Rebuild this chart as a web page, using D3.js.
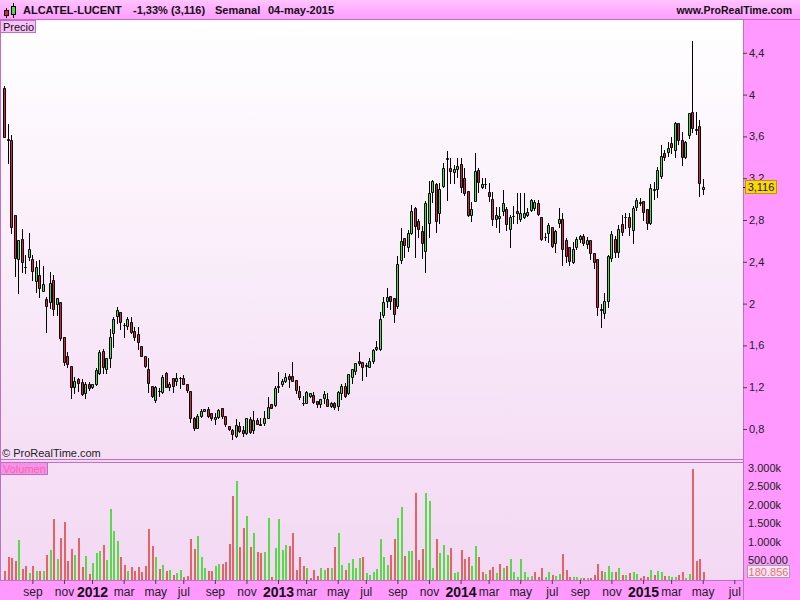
<!DOCTYPE html>
<html><head><meta charset="utf-8">
<script src="https://cdn.jsdelivr.net/npm/d3@7"></script>
<style>
html,body{margin:0;padding:0;background:#ff99ff;}
svg{display:block;font-family:"Liberation Sans",Arial,sans-serif;}
</style></head><body>
<svg id="chart" width="800" height="600"></svg>
<script>
// ---------- DATA ----------
const firstWeek = "2011-07-11";
const lastWeek = "2015-05-04";
const open = [4.06,3.57,3.565,2.85,2.424,2.615,2.355,2.443,2.424,2.219,
2.274,2.123,2.044,2.012,2.226,1.993,2.012,1.678,1.50,1.403,
1.205,1.281,1.25,1.142,1.228,1.199,1.228,1.333,1.546,1.371,
1.477,1.716,1.884,1.922,1.797,1.79,1.821,1.738,1.71,1.594,
1.50,1.371,1.214,1.078,1.168,1.157,1.333,1.199,1.285,1.262,
1.284,1.285,1.233,1.164,0.902,0.812,0.927,0.977,0.994,0.956,
0.893,0.918,0.998,0.924,0.832,0.79,0.736,0.829,0.79,0.759,
0.893,0.79,0.886,0.845,0.855,0.908,1.036,1.03,1.203,1.228,
1.26,1.307,1.307,1.27,1.164,1.052,1.052,1.12,1.125,1.071,
1.036,1.093,1.084,1.023,1.046,1.02,1.142,1.214,1.142,1.30,
1.358,1.45,1.438,1.405,1.398,1.454,1.565,1.57,1.89,2.028,
2.07,2.05,1.977,2.417,2.624,2.538,2.678,2.911,2.793,2.694,
2.506,2.767,3.065,3.144,2.863,3.128,3.38,3.294,3.262,3.291,
3.336,3.199,3.077,2.847,2.985,3.278,3.119,3.14,3.071,3.001,
2.806,2.815,2.889,2.905,2.71,2.84,2.886,2.806,2.831,2.847,
2.895,2.918,2.959,2.825,2.634,2.672,2.729,2.576,2.774,2.806,
2.61,2.539,2.40,2.545,2.615,2.647,2.567,2.609,2.487,2.427,
1.95,1.907,2.028,2.433,2.62,2.49,2.76,2.826,2.83,2.70,
2.927,2.975,2.985,2.902,2.77,3.09,3.093,3.22,3.44,3.454,
3.533,3.47,3.731,3.565,3.406,3.613,3.836,3.66,3.70,3.10];
const high = [4.08,3.72,3.61,2.85,2.61,2.71,2.465,2.676,2.465,2.41,
2.417,2.36,2.06,2.30,2.274,2.05,2.018,1.678,1.534,1.403,
1.30,1.29,1.276,1.248,1.25,1.235,1.38,1.556,1.565,1.477,
1.754,1.876,1.968,1.922,1.817,1.869,1.869,1.78,1.78,1.594,
1.50,1.477,1.214,1.21,1.19,1.316,1.345,1.254,1.285,1.333,
1.296,1.316,1.233,1.164,0.918,0.94,0.99,0.995,1.01,0.956,
0.95,0.99,0.998,0.924,0.832,0.80,0.895,0.87,0.826,0.91,
0.918,0.975,0.91,0.91,0.975,1.11,1.036,1.21,1.35,1.28,
1.34,1.33,1.44,1.27,1.21,1.115,1.164,1.142,1.154,1.071,
1.084,1.16,1.14,1.06,1.06,1.167,1.227,1.24,1.323,1.374,
1.434,1.54,1.438,1.43,1.477,1.57,1.64,1.92,2.066,2.145,
2.07,2.05,2.455,2.719,2.63,2.70,2.943,2.92,2.806,2.742,
2.982,3.173,3.18,3.15,3.151,3.342,3.46,3.39,3.326,3.39,
3.39,3.294,3.08,2.975,3.444,3.294,3.199,3.199,3.151,3.071,
2.927,2.921,3.087,2.927,2.847,2.934,3.061,3.061,3.055,2.911,
2.998,2.991,2.991,2.825,2.672,2.774,2.729,2.704,2.911,2.863,
2.624,2.545,2.59,2.64,2.66,2.67,2.635,2.609,2.487,2.427,
2.00,2.10,2.465,2.69,2.65,2.75,2.85,2.865,2.865,2.934,
3.007,3.007,2.985,2.902,3.14,3.16,3.31,3.52,3.47,3.55,
3.598,3.74,3.731,3.64,3.56,3.82,4.513,3.83,3.76,3.19];
const low = [3.59,3.35,2.68,2.26,2.104,2.30,2.29,2.417,2.226,2.11,
2.066,2.123,1.73,1.955,1.89,1.89,1.652,1.41,1.39,1.10,
1.142,1.167,1.125,1.094,1.17,1.19,1.22,1.326,1.333,1.333,
1.396,1.58,1.81,1.754,1.678,1.754,1.716,1.652,1.563,1.495,
1.39,1.151,1.11,1.06,1.12,1.147,1.199,1.174,1.157,1.22,
1.19,1.228,1.157,0.87,0.79,0.812,0.918,0.97,0.918,0.886,
0.85,0.902,0.902,0.83,0.79,0.70,0.72,0.775,0.736,0.752,
0.765,0.765,0.845,0.84,0.838,0.905,0.998,1.02,1.157,1.21,
1.245,1.205,1.255,1.147,1.085,1.03,1.047,1.11,1.047,1.014,
1.01,1.047,1.02,1.014,0.99,0.985,1.085,1.11,1.135,1.236,
1.33,1.41,1.27,1.31,1.39,1.43,1.56,1.56,1.87,1.97,
1.95,1.82,1.96,2.385,2.449,2.50,2.67,2.449,2.64,2.433,
2.305,2.64,2.975,2.688,2.767,3.119,2.99,3.15,3.151,3.215,
3.071,3.039,2.838,2.793,2.98,3.071,3.103,3.103,2.985,2.751,
2.735,2.688,2.847,2.704,2.544,2.774,2.774,2.793,2.815,2.838,
2.886,2.90,2.847,2.608,2.608,2.592,2.544,2.496,2.735,2.369,
2.40,2.37,2.39,2.52,2.59,2.56,2.535,2.43,2.34,1.89,
1.78,1.86,1.97,2.41,2.45,2.45,2.66,2.72,2.66,2.58,
2.90,2.94,2.80,2.71,2.76,3.00,3.02,3.20,3.375,3.41,
3.44,3.40,3.53,3.33,3.39,3.58,3.64,3.62,3.03,3.05];
const close = [3.59,3.575,2.736,2.44,2.609,2.395,2.35,2.52,2.315,2.347,
2.152,2.185,1.98,2.194,1.945,2.05,1.674,1.444,1.42,1.205,
1.262,1.243,1.135,1.228,1.19,1.228,1.365,1.534,1.396,1.477,
1.678,1.853,1.939,1.821,1.793,1.85,1.725,1.678,1.635,1.50,
1.40,1.237,1.116,1.205,1.164,1.30,1.205,1.228,1.211,1.285,
1.288,1.233,1.173,0.908,0.812,0.924,0.972,0.99,0.927,0.902,
0.918,0.982,0.927,0.848,0.80,0.755,0.838,0.78,0.759,0.902,
0.774,0.886,0.845,0.843,0.902,1.008,1.004,1.195,1.207,1.26,
1.30,1.281,1.26,1.173,1.11,1.048,1.157,1.142,1.061,1.036,
1.084,1.132,1.02,1.046,1.008,1.157,1.211,1.119,1.323,1.374,
1.434,1.436,1.39,1.408,1.454,1.556,1.58,1.85,2.018,2.06,
2.028,1.898,2.376,2.599,2.561,2.672,2.886,2.742,2.716,2.576,
2.959,3.055,3.176,2.793,3.093,3.294,3.39,3.272,3.288,3.317,
3.112,3.055,2.847,2.905,3.269,3.16,3.144,3.145,3.033,2.806,
2.847,2.838,2.959,2.758,2.825,2.842,2.863,2.863,2.863,2.879,
2.988,2.975,2.854,2.618,2.636,2.751,2.554,2.694,2.806,2.519,
2.46,2.41,2.52,2.615,2.647,2.583,2.609,2.487,2.40,1.97,
1.94,2.025,2.455,2.666,2.49,2.71,2.688,2.83,2.736,2.918,
2.99,2.965,2.879,2.775,3.11,3.094,3.278,3.412,3.406,3.486,
3.50,3.725,3.565,3.406,3.55,3.82,3.685,3.675,3.158,3.116];
// weekly volume, thousands of shares
const volume = [203,581,562,473,1040,257,338,149,338,203,
203,203,635,770,1607,527,1094,1526,473,797,
635,1094,311,608,122,419,689,743,905,500,
1877,1283,1013,581,365,203,311,203,311,176,
338,1337,878,581,257,365,203,230,95,149,
230,41,68,1067,797,1148,581,284,203,203,
338,392,392,446,932,2228,2633,851,1364,1688,
851,1229,716,689,716,1634,41,824,1607,770,
905,878,1229,230,581,338,284,14,230,68,
284,230,284,284,851,1229,365,230,419,527,
284,554,581,149,95,176,257,1067,581,365,
635,1067,1634,1940,616,743,743,2318,500,797,
2318,2093,284,1067,689,905,635,824,149,176,
770,527,581,338,878,581,176,122,230,311,
149,392,284,338,527,176,41,527,176,41,
68,176,41,284,41,176,95,68,122,662,
230,30,41,41,10,10,20,10,95,392,
203,176,338,176,176,284,95,95,149,176,
122,20,68,41,230,95,203,176,68,68,
41,41,95,176,20,122,2957,473,527,180.856];

const priceTicks = [0.8,1.2,1.6,2,2.4,2.8,3.2,3.6,4,4.4];
const volTicks = [500,1000,1500,2000,2500,3000];
const volTickLabels = ["500.000","1.000k","1.500k","2.000k","2.500k","3.000k"];
const monthNames = ["ene","feb","mar","abr","may","jun","jul","ago","sep","oct","nov","dic"];
const titleParts = ["ALCATEL-LUCENT","-1,33% (3,116)","Semanal","04-may-2015"];
const lastPriceLabel = "3,116";
const lastVolLabel = "180.856";

// ---------- LAYOUT ----------
const svg = d3.select("#chart");
const PR = 743, PT = 20, PB = 459, VT = 462, VB = 580;
const RED = "#e8174f", GREEN = "#33ee33", VRED = "#e26464", VGREEN = "#5ad84a";
const BORDER = "#c070c0";

const parse = d3.utcParse("%Y-%m-%d");
const t0 = parse(firstWeek), t1 = parse(lastWeek);
const dates = open.map((_, i) => d3.utcDay.offset(t0, 7 * i));

const x = d3.scaleUtc().domain([t0, t1]).range([4.3, 702.7]);
const y = d3.scaleLinear().domain([0.8, 4.4]).range([429, 52.8]);
const yv = d3.scaleLinear().domain([0, 3000]).range([578.5, 467.5]);

const defs = svg.append("defs");
function grad(id, c1, c2) {
  const g = defs.append("linearGradient").attr("id", id).attr("x1", 0).attr("y1", 0).attr("x2", 0).attr("y2", 1);
  g.append("stop").attr("offset", "0%").attr("stop-color", c1);
  g.append("stop").attr("offset", "100%").attr("stop-color", c2);
}
grad("gHead", "#ffc4ff", "#ff9cff");
grad("gPrice", "#ffffff", "#f5def5");
grad("gVol", "#f6e0f6", "#f3d8f3");
defs.append("clipPath").attr("id", "clipP").append("rect").attr("x", 1).attr("y", PT).attr("width", PR - 1).attr("height", PB - PT);

svg.append("rect").attr("width", 800).attr("height", 600).attr("fill", "#ff99ff");
// header
svg.append("rect").attr("width", 800).attr("height", 19).attr("fill", "url(#gHead)");
svg.append("line").attr("x1", 0).attr("x2", 800).attr("y1", 19.5).attr("y2", 19.5).attr("stroke", BORDER);
// panels
svg.append("rect").attr("x", 0).attr("y", PT).attr("width", PR).attr("height", PB - PT).attr("fill", "url(#gPrice)");
svg.append("rect").attr("x", 0).attr("y", PB).attr("width", PR).attr("height", VT - PB).attr("fill", "#f3d6f3");
svg.append("rect").attr("x", 0).attr("y", VT).attr("width", PR).attr("height", VB - VT).attr("fill", "url(#gVol)");
[PB + 0.5, VT + 0.5, VB + 0.5].forEach(v => svg.append("line").attr("x1", 0).attr("x2", PR).attr("y1", v).attr("y2", v).attr("stroke", BORDER));
svg.append("line").attr("x1", 0.5).attr("x2", 0.5).attr("y1", PT).attr("y2", VB).attr("stroke", BORDER);
svg.append("line").attr("x1", PR + 0.5).attr("x2", PR + 0.5).attr("y1", PT).attr("y2", 600).attr("stroke", BORDER);

// header content
const icon = svg.append("g");
icon.append("line").attr("x1", 6.5).attr("x2", 6.5).attr("y1", 8).attr("y2", 18).attr("stroke", "#000");
icon.append("rect").attr("x", 4.5).attr("y", 10.5).attr("width", 4).attr("height", 5).attr("fill", RED).attr("stroke", "#000");
icon.append("line").attr("x1", 13.5).attr("x2", 13.5).attr("y1", 3).attr("y2", 18).attr("stroke", "#000");
icon.append("rect").attr("x", 11.5).attr("y", 6.5).attr("width", 4).attr("height", 8).attr("fill", GREEN).attr("stroke", "#000");
const titleX = [23, 133, 215, 268];
svg.selectAll("text.title").data(titleParts).join("text").attr("class", "title")
  .attr("x", (d, i) => titleX[i]).attr("y", 14).attr("font-size", 11).attr("font-weight", "bold").attr("fill", "#111").text(d => d);
svg.append("text").attr("x", 792).attr("y", 14).attr("text-anchor", "end").attr("font-size", 10.5)
  .attr("font-weight", "bold").attr("fill", "#111").text("www.ProRealTime.com");

// ---------- CANDLES ----------
const cg = svg.append("g").attr("clip-path", "url(#clipP)");
const px = i => Math.round(x(dates[i]));
const candles = cg.selectAll("g.c").data(open.map((o, i) => i)).join("g").attr("class", "c");
candles.append("line")
  .attr("x1", i => px(i) + 0.5).attr("x2", i => px(i) + 0.5)
  .attr("y1", i => Math.round(y(Math.max(high[i], open[i], close[i]))))
  .attr("y2", i => Math.round(y(Math.min(low[i], open[i], close[i]))) + 1)
  .attr("stroke", "#000");
candles.append("path")
  .attr("d", i => {
    const t = Math.round(y(Math.max(open[i], close[i]))) + 0.5;
    const b = Math.round(y(Math.min(open[i], close[i]))) + 0.5;
    const l = px(i) - 0.5, r = px(i) + 1.5;
    return `M${l},${t}H${r}V${b}H${l}Z`;
  })
  .attr("fill", i => close[i] >= open[i] ? GREEN : RED)
  .attr("stroke", "#000").attr("stroke-width", 1);

// ---------- VOLUME ----------
svg.append("g").selectAll("rect").data(volume).join("rect")
  .attr("x", (d, i) => px(i)).attr("width", 2)
  .attr("y", d => Math.round(yv(d)))
  .attr("height", d => VB - Math.round(yv(d)))
  .attr("fill", (d, i) => (i > 0 && close[i] >= close[i - 1]) ? VGREEN : VRED);

// ---------- AXES ----------
const fmtPrice = d => String(d).replace(".", ",");
const ay = svg.append("g").attr("transform", `translate(${PR},0)`)
  .call(d3.axisRight(y).tickValues(priceTicks).tickFormat(fmtPrice).tickSize(4).tickPadding(2));
const avv = svg.append("g").attr("transform", `translate(${PR},0)`)
  .call(d3.axisRight(yv).tickValues(volTicks).tickFormat((d, i) => volTickLabels[i]).tickSize(0).tickPadding(5));

const monthStarts = d3.utcMonth.range(new Date(Date.UTC(2011, 8, 1)), new Date(Date.UTC(2015, 7, 1)), 2);
const monthTicks = monthStarts.map(m => d3.utcMonday.ceil(m));
const ax = svg.append("g").attr("transform", `translate(0,${VB})`)
  .call(d3.axisBottom(x).tickValues(monthTicks).tickSize(4).tickPadding(3)
    .tickFormat(d => { const m = d.getUTCMonth(); return m === 0 ? String(d.getUTCFullYear()) : monthNames[m]; }));
[ay, avv, ax].forEach(g => {
  g.select(".domain").remove();
  g.selectAll(".tick line").attr("stroke", "#444");
  g.selectAll(".tick text").attr("fill", "#222").attr("font-size", 11).attr("font-family", "'Liberation Sans',Arial,sans-serif");
});
ax.selectAll(".tick text").attr("font-size", 12)
  .filter(d => d.getUTCMonth() === 0).attr("font-size", 14).attr("font-weight", "bold").attr("fill", "#111");

// last price marker (covers part of the 3,2 label, as in the original)
const lp = close[close.length - 1];
const ly = Math.round(y(lp));
svg.append("line").attr("x1", PR).attr("x2", PR + 4).attr("y1", ly + 0.5).attr("y2", ly + 0.5).attr("stroke", "#000");
svg.append("rect").attr("x", 745.5).attr("y", ly - 6.5).attr("width", 31).attr("height", 13)
  .attr("fill", "#ffd800").attr("stroke", "#b89a00");
svg.append("text").attr("x", 761).attr("y", ly + 4).attr("text-anchor", "middle").attr("font-size", 11).attr("fill", "#111").text(lastPriceLabel);

// last volume marker
const lv = Math.round(yv(volume[volume.length - 1]));
svg.append("rect").attr("x", 747.5).attr("y", lv - 6.5).attr("width", 42).attr("height", 12)
  .attr("fill", "#f7e6f7").attr("stroke", "#a8a0a8");
svg.append("text").attr("x", 768.5).attr("y", lv + 3.5).attr("text-anchor", "middle").attr("font-size", 11).attr("fill", "#ee7070").text(lastVolLabel);

// panel labels
svg.append("rect").attr("x", 0.5).attr("y", 20.5).attr("width", 35).attr("height", 12).attr("fill", "#f7c2f7").attr("stroke", BORDER);
svg.append("text").attr("x", 3).attr("y", 30.5).attr("font-size", 11).attr("fill", "#111").text("Precio");
svg.append("rect").attr("x", 0.5).attr("y", 462.5).attr("width", 47).attr("height", 12).attr("fill", "#f590ee").attr("stroke", BORDER);
svg.append("text").attr("x", 3).attr("y", 472.5).attr("font-size", 11).attr("fill", "#f86a9a").text("Volumen");
svg.append("text").attr("x", 2).attr("y", 457).attr("font-size", 11).attr("fill", "#222").text("\u00a9 ProRealTime.com");
</script>
</body></html>
